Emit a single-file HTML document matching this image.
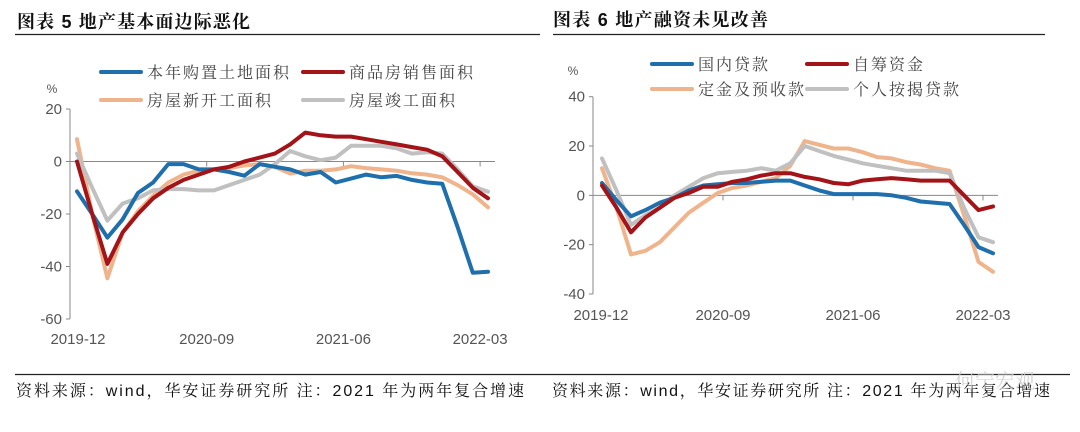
<!DOCTYPE html>
<html><head><meta charset="utf-8">
<style>
html,body{margin:0;padding:0;background:#fff;}
body{width:1080px;height:427px;overflow:hidden;position:relative;font-family:"Liberation Sans","Noto Sans CJK SC",sans-serif;}
svg text{font-family:"Liberation Sans","Noto Sans CJK SC",sans-serif;}
svg text.cn{font-family:"Liberation Sans","Noto Serif CJK SC",serif;}
</style></head>
<body>
<svg id="root" width="1080" height="427" viewBox="0 0 1080 427">
  <text x="17" y="28" class="cn" font-size="18" font-weight="bold" fill="#111" textLength="233" lengthAdjust="spacing">图表 5 地产基本面边际恶化</text>
  <line x1="15" y1="34.5" x2="540" y2="34.5" stroke="#222" stroke-width="1.2"/>
  <text x="553" y="26" class="cn" font-size="18" font-weight="bold" fill="#111" textLength="215" lengthAdjust="spacing">图表 6 地产融资未见改善</text>
  <line x1="553" y1="34.5" x2="1045" y2="34.5" stroke="#222" stroke-width="1.2"/>
  <line x1="15" y1="374.5" x2="1070" y2="374.5" stroke="#222" stroke-width="1.2"/>
  <text x="16" y="396" class="cn" font-size="16" fill="#111" textLength="508" lengthAdjust="spacing">资料来源：wind，华安证券研究所 注：2021 年为两年复合增速</text>
  <text x="552" y="396" class="cn" font-size="16" fill="#111" textLength="498" lengthAdjust="spacing">资料来源：wind，华安证券研究所 注：2021 年为两年复合增速</text>
  <text x="955" y="388" class="cn" font-size="20" fill="#ccc" opacity="0.8">何宁宏观</text>
  <g id="c5"></g>
  <g id="c6"></g>
</svg>
<script>
const xLabels = ["2019-12","2020-09","2021-06","2022-03"];
const c5Names = ["本年购置土地面积","商品房销售面积","房屋新开工面积","房屋竣工面积"];
const c5Land = [-11.4,-20,-29,-22,-12,-8,-1,-1,-3,-3,-4,-5.4,-1,-2,-3,-5,-4,-8,-6.5,-5,-6,-5.5,-7,-8,-8.5,-25,-42.4,-42];
const c5Sales = [0,-20,-39,-27,-20,-14,-10,-7,-5,-3,-2,0,1.5,3,6.5,11,10,9.5,9.5,8.5,7.5,6.5,5.5,4.5,2,-4,-10,-14];
const c5Start = [8.5,-20,-44.5,-27,-19,-13,-8,-5,-3.5,-3,-2.5,-1.5,-1,-2,-4.6,-3.5,-3.5,-3,-1.8,-2.5,-3,-3.5,-4.5,-5,-6,-9,-12.5,-17.5];
const c5Done = [3,-10,-22.5,-16,-14,-11,-10.5,-10.5,-11,-11,-9,-7,-5,-1,4,2,0.5,1.5,6,6,6,5,3,3.5,3,-3,-9.5,-11.5];
const c5Ticks = [-60,-40,-20,0,20];
const c6Names = ["国内贷款","自筹资金","定金及预收款","个人按揭贷款"];
const c6Loan = [5,-2,-8.5,-6,-3,-1,2,4,4.5,5,5,5.5,6,6,4,2,0.5,0.5,0.5,0.5,0,-1,-2.5,-3,-3.5,-12,-21,-23.5];
const c6Self = [4,-5,-15,-9,-5,-1,1,3.5,3.5,5.5,6.5,8,9,9,7.5,6.5,5,4.5,6,6.5,7,6.5,6,6,6,0,-6,-4.5];
const c6Deposit = [11,-5,-24,-22.5,-19,-13,-7,-3,1,3,4,5.5,7,12,22,20.5,19,19,17.5,15.5,15,13.5,12.5,11,10,-8,-27,-31];
const c6Mortgage = [15,2,-12,-8,-5,0,3.5,7,9,9.5,10,11,10,13,20,18,16,14.5,13,12,11,10,10,10,9,-5,-17,-19];
const c6Ticks = [-40,-20,0,20,40];
const colors = ["#1f6fad","#a31419","#f0b48c","#c0c0c0"];
const NS = "http://www.w3.org/2000/svg";
function mk(tag, attrs, parent){const e=document.createElementNS(NS,tag);for(const k in attrs)e.setAttribute(k,attrs[k]);parent.appendChild(e);return e;}

function draw(g, cfg, series, ticks, names, prefix){
  const yS = v => cfg.y0 - (v - cfg.vmin) * (cfg.y0 - cfg.y1) / (cfg.vmax - cfg.vmin);
  const n = series[0].length;
  const xS = i => cfg.xFirst + i * (cfg.xLast - cfg.xFirst) / (n - 1);
  const ya = mk("line",{x1:cfg.ax,y1:yS(cfg.vmax),x2:cfg.ax,y2:yS(cfg.vmin),stroke:"#888","stroke-width":1},g);
  
  
  ticks.forEach(t=>{
    const tk = mk("line",{x1:cfg.ax-4,y1:yS(t),x2:cfg.ax,y2:yS(t),stroke:"#888","stroke-width":1},g);
    
    
    const tl = mk("text",{x:cfg.ax-8,y:yS(t)+5,"text-anchor":"end","font-size":15,fill:"#555"},g);
    tl.textContent = t;
    
    
  });
  const xa = mk("line",{x1:cfg.ax,y1:yS(0),x2:cfg.xEnd,y2:yS(0),stroke:"#888","stroke-width":1},g);
  
  
  xLabels.forEach((lab,k)=>{
    const tx = cfg.ax + k * cfg.tickStep;
    if(k>0){
      const tk = mk("line",{x1:tx,y1:yS(0),x2:tx,y2:yS(0)+5,stroke:"#888","stroke-width":1},g);
      
      
    }
    const tl = mk("text",{x:tx+(k==0?8:0),y:cfg.labelY,"text-anchor":"middle","font-size":15,fill:"#555"},g);
    tl.textContent = lab;
    
    
  });
  const pct = mk("text",{x:cfg.pctX,y:cfg.pctY,"text-anchor":"middle","font-size":12,fill:"#555"},g);
  pct.textContent = "%";
  
  
  [2,3,0,1].forEach(si=>{
    const d = series[si].map((v,i)=>(i?"L":"M")+xS(i).toFixed(1)+","+yS(v).toFixed(1)).join(" ");
    const p = mk("path",{d:d,fill:"none",stroke:colors[si],"stroke-width":4,"stroke-linejoin":"round","stroke-linecap":"round"},g);
    
    
  });
  names.forEach((nm,si)=>{
    const lx = cfg.legX[si%2], ly = cfg.legY[Math.floor(si/2)];
    const sw = mk("line",{x1:lx,y1:ly,x2:lx+40,y2:ly,stroke:colors[si],"stroke-width":4,"stroke-linecap":"round"},g);
    
    
    const tl = mk("text",{x:lx+46,y:ly+6,"font-size":16,fill:"#444","letter-spacing":"2",class:"cn"},g);
    tl.textContent = nm;
    
    
  });
}

draw(document.getElementById("c5"),
  {ax:70,y0:319,y1:109,vmin:-60,vmax:20,xFirst:77,xLast:488,xEnd:495,tickStep:136.7,labelY:344,pctX:52,pctY:93,legX:[101,303],legY:[72,100]},
  [c5Land,c5Sales,c5Start,c5Done], c5Ticks, c5Names, "chart5");
draw(document.getElementById("c6"),
  {ax:593,y0:294,y1:96.7,vmin:-40,vmax:40,xFirst:602,xLast:993,xEnd:998,tickStep:130,labelY:320,pctX:573,pctY:75,legX:[652,807],legY:[64,89]},
  [c6Loan,c6Self,c6Deposit,c6Mortgage], c6Ticks, c6Names, "chart6");
</script>
</body></html>
